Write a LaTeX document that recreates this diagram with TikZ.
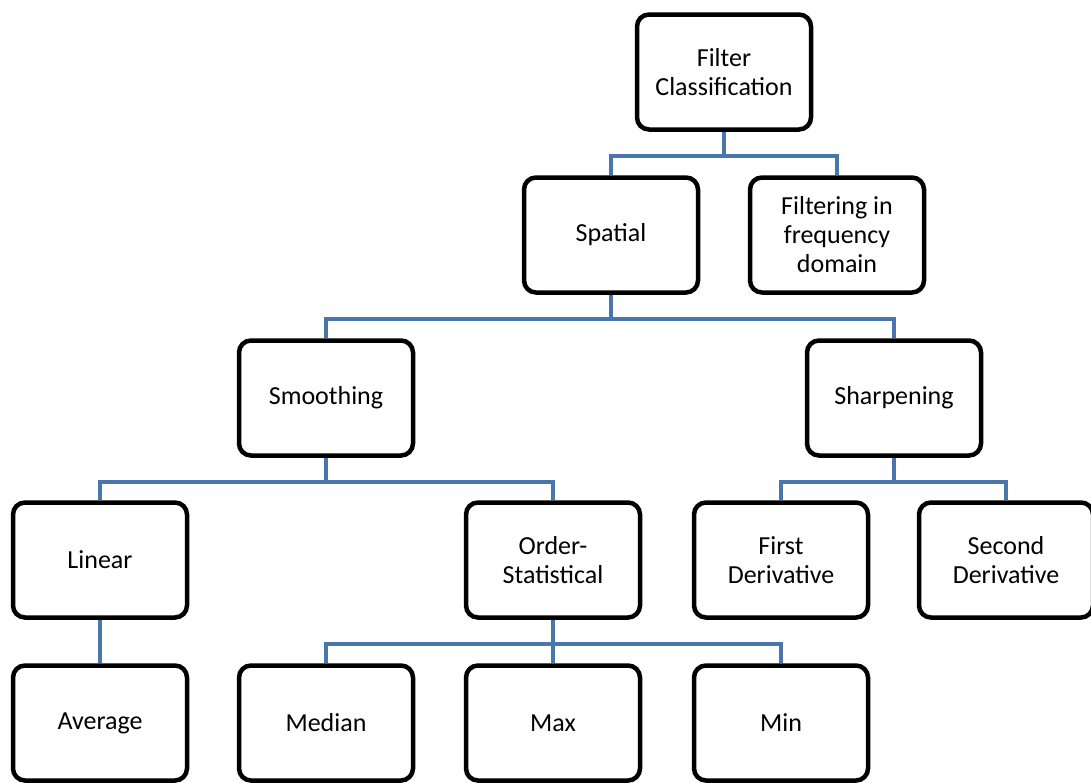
\documentclass[tikz,border=0pt]{standalone}
\usepackage{fontspec}
\setmainfont{Carlito}
\usetikzlibrary{backgrounds}
\definecolor{connblue}{HTML}{4A76AE}
\tikzset{
  box/.style={draw=black, line width=4.5pt, rounded corners=12pt, fill=white,
    minimum width=174pt, minimum height=115pt, align=center, inner sep=2pt,
    font=\fontsize{26}{29}\selectfont},
  conn/.style={draw=connblue, line width=4pt}
}
\begin{document}
\begin{tikzpicture}[x=1pt,y=-1pt]
\useasboundingbox (0,0) rectangle (1091,782);
\node[box] (fc) at (724,72) {Filter\\Classification};
\node[box] (sp) at (611,235) {Spatial};
\node[box] (fd) at (837,235) {Filtering in\\frequency\\domain};
\node[box] (sm) at (326,398) {Smoothing};
\node[box] (sh) at (894,398) {Sharpening};
\node[box] (li) at (100,560) {Linear};
\node[box] (os) at (553,560) {Order-\\Statistical};
\node[box] (d1) at (781,560) {First\\Derivative};
\node[box] (d2) at (1006,560) {Second\\Derivative};
\node[box] (av) at (100,723) {Average};
\node[box] (me) at (326,723) {Median};
\node[box] (mx) at (553,723) {Max};
\node[box] (mn) at (781,723) {Min};
\begin{scope}[on background layer]
\draw[conn] (fc.south) -- ++(0,24) -| (sp.north);
\draw[conn] (fc.south) -- ++(0,24) -| (fd.north);
\draw[conn] (sp.south) -- ++(0,24) -| (sm.north);
\draw[conn] (sp.south) -- ++(0,24) -| (sh.north);
\draw[conn] (sm.south) -- ++(0,24) -| (li.north);
\draw[conn] (sm.south) -- ++(0,24) -| (os.north);
\draw[conn] (sh.south) -- ++(0,24) -| (d1.north);
\draw[conn] (sh.south) -- ++(0,24) -| (d2.north);
\draw[conn] (li.south) -- (av.north);
\draw[conn] (os.south) -- ++(0,24) -| (me.north);
\draw[conn] (os.south) -- ++(0,24) -| (mx.north);
\draw[conn] (os.south) -- ++(0,24) -| (mn.north);
\end{scope}
\end{tikzpicture}
\end{document}
